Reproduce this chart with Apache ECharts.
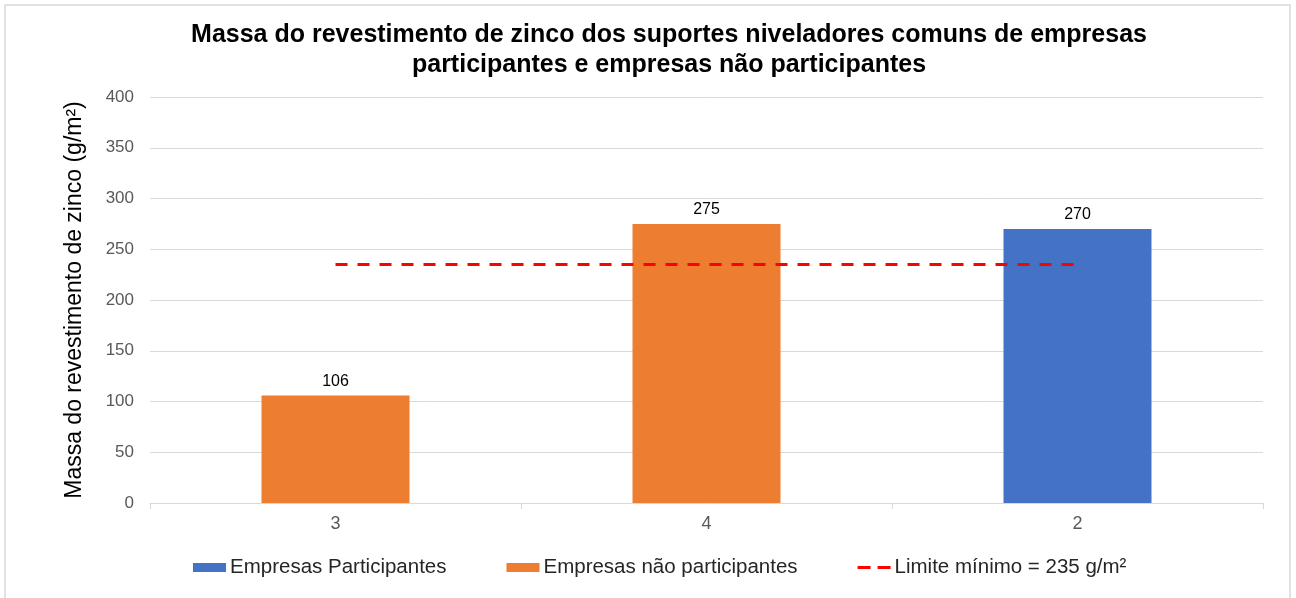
<!DOCTYPE html>
<html>
<head>
<meta charset="utf-8">
<script src="https://cdn.jsdelivr.net/npm/echarts@6/dist/echarts.min.js"></script>
<style>
html,body{margin:0;padding:0;background:#fff;}
#chart{width:1296px;height:598px;}
</style>
</head>
<body>
<div id="chart"></div>
<script>
const categories = ['3', '4', '2'];
const participantes = [null, null, 270];
const naoParticipantes = [106, 275, null];
const limite = [235, 235, 235];
const yTicks = [0, 50, 100, 150, 200, 250, 300, 350, 400];

const chart = echarts.init(document.getElementById('chart'));
const font = 'Liberation Sans, Arial, sans-serif';
const dashIcon = 'path://M0,0h0.01v0.01h-0.01z M0,3h13v3h-13z M20,3h13v3h-13z M32.99,8.99h0.01v0.01h-0.01z';
chart.setOption({
  animation: false,
  textStyle: { fontFamily: font },
  graphic: [{
    type: 'rect',
    shape: { x: 5, y: 5, width: 1285, height: 620 },
    style: { fill: 'none', stroke: '#d9d9d9', lineWidth: 1.5 },
    silent: true
  }],
  title: {
    text: 'Massa do revestimento de zinco dos suportes niveladores comuns de empresas\nparticipantes e empresas não participantes',
    left: 664,
    textAlign: 'center',
    top: 15,
    textStyle: { fontFamily: font, fontSize: 25, fontWeight: 'bold', color: '#000', lineHeight: 30 }
  },
  legend: {
    top: 557,
    left: 193,
    padding: 0,
    itemWidth: 33,
    itemHeight: 9,
    itemGap: 60,
    textStyle: { fontFamily: font, fontSize: 20.5, color: '#262626', padding: [0, 0, 0, -1] },
    data: [
      { name: 'Empresas Participantes', icon: 'rect' },
      { name: 'Empresas não participantes', icon: 'rect' },
      { name: 'Limite mínimo = 235 g/m²', icon: dashIcon }
    ]
  },
  grid: { left: 150, right: 33, top: 97, bottom: 95 },
  xAxis: {
    type: 'category',
    data: categories,
    axisLine: { lineStyle: { color: '#d9d9d9', width: 1 } },
    axisTick: { show: true, length: 6, lineStyle: { color: '#d9d9d9' } },
    axisLabel: { fontFamily: font, fontSize: 18, color: '#595959', margin: 12 }
  },
  yAxis: {
    type: 'value',
    min: 0, max: 400, interval: 50,
    name: 'Massa do revestimento de zinco (g/m²)',
    nameLocation: 'middle',
    nameGap: 64,
    nameTextStyle: { fontFamily: font, fontSize: 23, color: '#000' },
    axisLabel: {
      fontFamily: font, fontSize: 17, color: '#595959', margin: 16,
      formatter: v => yTicks.includes(v) ? String(v) : ''
    },
    splitLine: { lineStyle: { color: '#d9d9d9', width: 1 } }
  },
  series: [
    {
      name: 'Empresas Participantes',
      type: 'bar',
      stack: 'a',
      data: participantes,
      barWidth: 148,
      itemStyle: { color: '#4472C4' },
      label: { show: true, position: 'top', fontFamily: font, fontSize: 16, color: '#000', distance: 6 }
    },
    {
      name: 'Empresas não participantes',
      type: 'bar',
      stack: 'a',
      data: naoParticipantes,
      barWidth: 148,
      itemStyle: { color: '#ED7D31' },
      label: { show: true, position: 'top', fontFamily: font, fontSize: 16, color: '#000', distance: 6 }
    },
    {
      name: 'Limite mínimo = 235 g/m²',
      type: 'line',
      data: limite,
      symbol: 'none',
      z: 5,
      lineStyle: { color: '#FF0000', width: 3, type: [12, 10] },
      itemStyle: { color: '#FF0000' }
    }
  ]
});
</script>
</body>
</html>
